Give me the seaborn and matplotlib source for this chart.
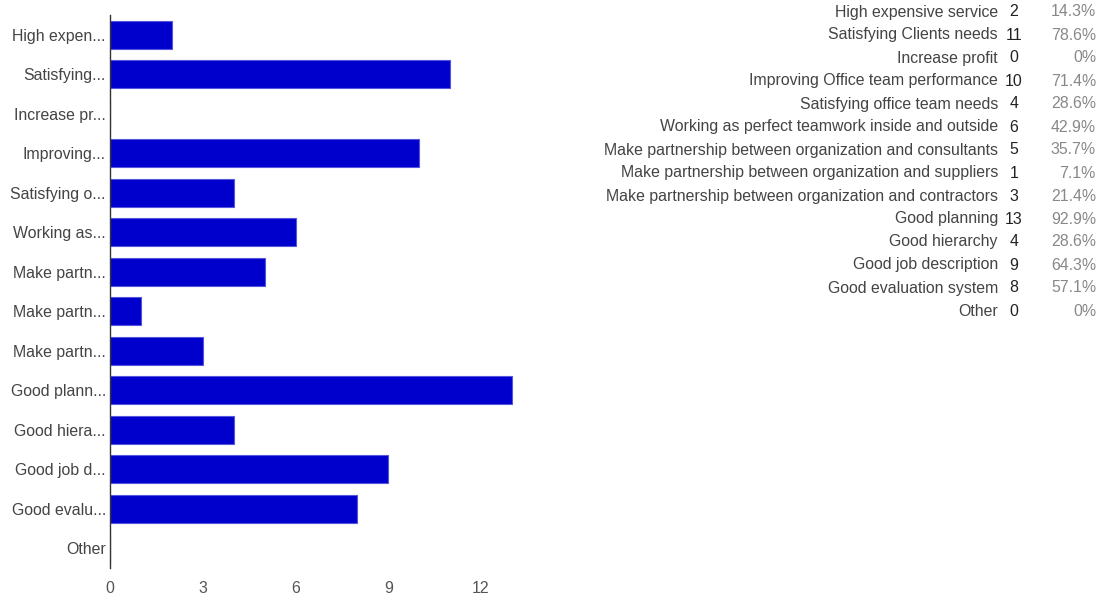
import pandas as pd
import seaborn as sns
import matplotlib.pyplot as plt

sns.set_style("white")
plt.rcParams['font.family'] = ['Liberation Sans', 'DejaVu Sans']

# short labels shown on the bar chart axis
short_labels = ["High expen...", "Satisfying...", "Increase pr...", "Improving...",
                "Satisfying o...", "Working as...", "Make partn...", "Make partn...",
                "Make partn...", "Good plann...", "Good hiera...", "Good job d...",
                "Good evalu...", "Other"]
# full labels shown in the table on the right
full_labels = ["High expensive service", "Satisfying Clients needs", "Increase profit",
               "Improving Office team performance", "Satisfying office team needs",
               "Working as perfect teamwork inside and outside",
               "Make partnership between organization and consultants",
               "Make partnership between organization and suppliers",
               "Make partnership between organization and contractors",
               "Good planning", "Good hierarchy", "Good job description",
               "Good evaluation system", "Other"]
counts = [2, 11, 0, 10, 4, 6, 5, 1, 3, 13, 4, 9, 8, 0]
percents = ["14.3%", "78.6%", "0%", "71.4%", "28.6%", "42.9%", "35.7%",
            "7.1%", "21.4%", "92.9%", "28.6%", "64.3%", "57.1%", "0%"]
xticks = [0, 3, 6, 9, 12]

df = pd.DataFrame({"pos": range(len(counts)), "count": counts})

fig = plt.figure(figsize=(11.16, 6.03), dpi=100)
ax = fig.add_axes([0.0986, 0.058, 0.374, 0.917])

sns.barplot(data=df, x="count", y="pos", orient="h", color="#0000cc",
            saturation=1, width=0.71, edgecolor="#5555e0", linewidth=0.8, ax=ax)
ax.set_yticks(range(len(short_labels)))
ax.set_yticklabels(short_labels, fontsize=11.4, color="#444444")
ax.set_xticks(xticks)
ax.set_xticklabels([str(t) for t in xticks], fontsize=11.4, color="#555555")
ax.set_xlim(0, 13.5)
ax.set_ylim(len(counts) - 0.5, -0.5)
ax.set_xlabel("")
ax.set_ylabel("")
for s in ["top", "right", "bottom"]:
    ax.spines[s].set_visible(False)
ax.spines["left"].set_color("#333333")
ax.spines["left"].set_linewidth(1)
ax.tick_params(axis="y", length=0, pad=3)
ax.tick_params(axis="x", length=0, pad=9)

# table of full labels, counts and percentages
W, H = 1116, 603
for i, (lab, c, p) in enumerate(zip(full_labels, counts, percents)):
    y = 1 - (12 + i * 23) / H
    fig.text(998 / W, y, lab, ha="right", va="center", fontsize=11.4, color="#444444")
    fig.text(1014 / W, y, str(c), ha="center", va="center", fontsize=11.4,
             color="#222222")
    fig.text(1096 / W, y, p, ha="right", va="center", fontsize=11.4, color="#888888")

fig.savefig("out.png", dpi=100)
